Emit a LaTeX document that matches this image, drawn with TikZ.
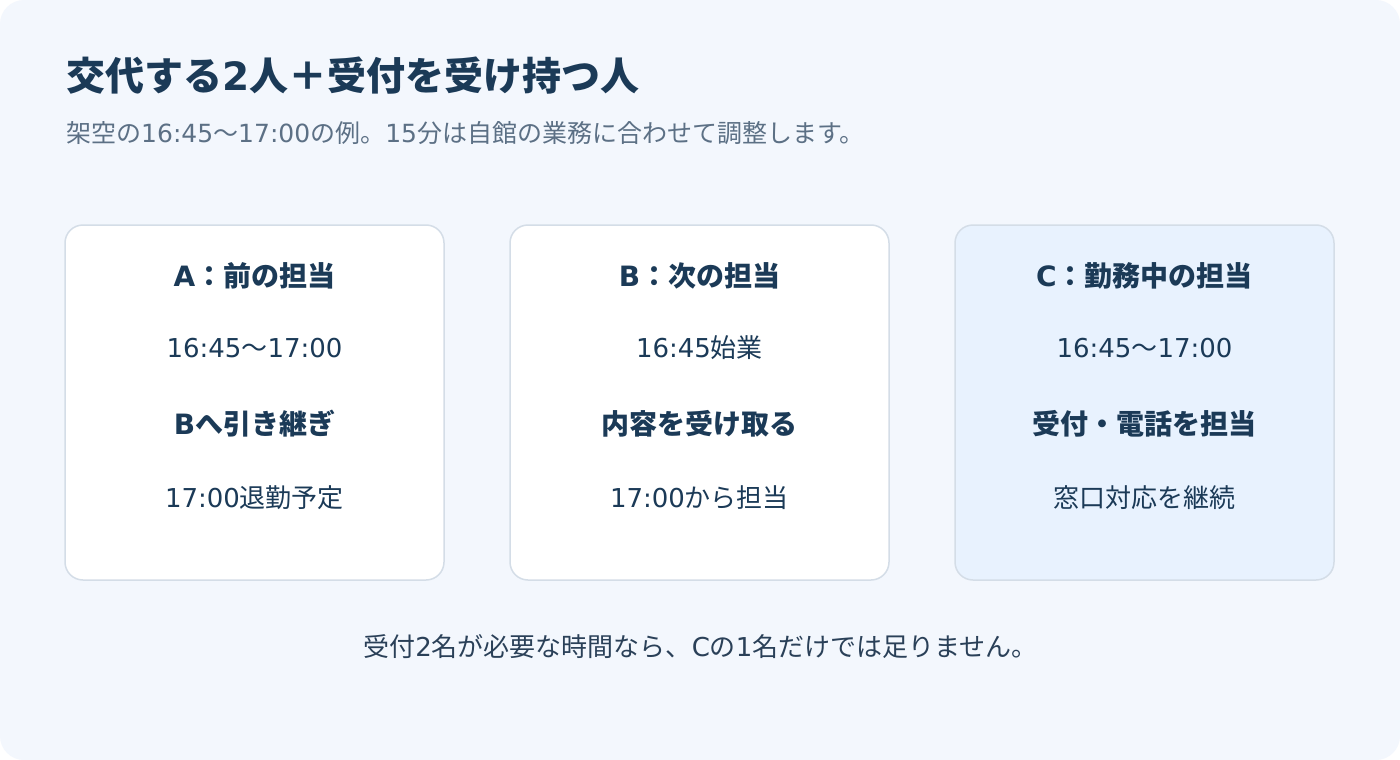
\documentclass[tikz,border=0pt]{standalone}
\usepackage{fontspec}
\setmainfont{Noto Sans CJK JP}
\newfontfamily\latf{DejaVu Sans}
\newcommand\lt[1]{{\latf #1}}
\definecolor{bgc}{HTML}{F3F7FD}
\definecolor{navy}{HTML}{1B3A57}
\definecolor{subc}{HTML}{5C7085}
\definecolor{cardb}{HTML}{D4DDE7}
\definecolor{cardc}{HTML}{E8F2FE}
\definecolor{foot}{HTML}{2A4058}
\begin{document}
\begin{tikzpicture}[x=1pt,y=-1pt,
  card/.style={draw=cardb,line width=1.5pt,rounded corners=18pt},
  head/.style={text=navy,font=\fontsize{28}{32}\selectfont\bfseries,inner sep=0pt},
  body/.style={text=navy,font=\fontsize{26}{30}\selectfont,inner sep=0pt}]
\useasboundingbox (0,0) rectangle (1400,760);
\fill[white] (0,0) rectangle (1400,760);
\fill[bgc,rounded corners=24pt] (0,0) rectangle (1400,760);
\node[anchor=west,text=navy,font=\fontsize{39}{44}\selectfont\bfseries,inner sep=0pt] (title) at (66,76) {交代する\lt{2}人＋受付を受け持つ人};
\node[anchor=west,text=subc,font=\fontsize{25}{30}\selectfont,inner sep=0pt] (sub) at (66,133) {架空の\lt{16:45}〜\lt{17:00}の例。\lt{15}分は自館の業務に合わせて調整します。};
\draw[card,fill=white] (65,225) rectangle (444,580);
\draw[card,fill=white] (510,225) rectangle (889,580);
\draw[card,fill=cardc] (955,225) rectangle (1334,580);
\node[head] (a1) at (254.5,276) {\lt{A}：前の担当};
\node[body] (a2) at (254.5,348) {\lt{16:45}〜\lt{17:00}};
\node[head] (a3) at (254.5,424) {\lt{B}へ引き継ぎ};
\node[body] (a4) at (254.5,498) {\lt{17:00}退勤予定};
\node[head] (b1) at (699.5,276) {\lt{B}：次の担当};
\node[body] (b2) at (699.5,348) {\lt{16:45}始業};
\node[head] (b3) at (699.5,424) {内容を受け取る};
\node[body] (b4) at (699.5,498) {\lt{17:00}から担当};
\node[head] (c1) at (1144.5,276) {\lt{C}：勤務中の担当};
\node[body] (c2) at (1144.5,348) {\lt{16:45}〜\lt{17:00}};
\node[head] (c3) at (1144.5,424) {受付・電話を担当};
\node[body] (c4) at (1144.5,498) {窓口対応を継続};
\node[text=foot,font=\fontsize{26}{30}\selectfont,inner sep=0pt] (foot) at (700.5,647) {受付\lt{2}名が必要な時間なら、\lt{C}の\lt{1}名だけでは足りません。};
\end{tikzpicture}
\end{document}
